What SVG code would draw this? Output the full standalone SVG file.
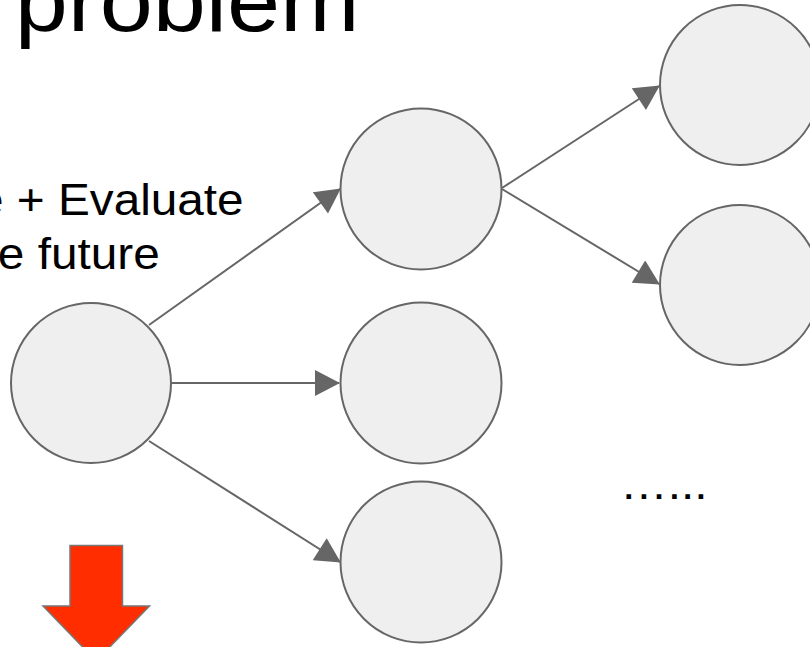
<svg xmlns="http://www.w3.org/2000/svg" width="810" height="647" viewBox="0 0 810 647">
  <style>
    .node { fill: #efefef; stroke: #666666; stroke-width: 2; }
    .edge { stroke: #666666; stroke-width: 2; fill: none; marker-end: url(#arrow); }
    .txt { font-family: "Liberation Sans", Arial, sans-serif; fill: #000000; }
  </style>
  <defs>
    <marker id="arrow" markerUnits="userSpaceOnUse" markerWidth="26" markerHeight="26" viewBox="0 0 25 26" refX="24" refY="13" orient="auto">
      <path d="M0,0 L25,13 L0,26 Z" fill="#666666"/>
    </marker>
  </defs>
  <rect width="810" height="647" fill="#ffffff"/>

  <g id="labels" transform="scale(1.085,1)">
    <text class="txt" x="13.6" y="31" font-size="88">problem</text>
    <text class="txt" x="-21.2" y="215" font-size="44">e + Evaluate</text>
    <text class="txt" x="-2" y="269" font-size="44">e future</text>
    <text class="txt" x="571.5" y="499.5" font-size="44">…...</text>
  </g>

  <g id="connectors">
    <line class="edge" x1="149" y1="325" x2="340" y2="189"/>
    <line class="edge" x1="172" y1="383" x2="339" y2="383"/>
    <line class="edge" x1="149" y1="441" x2="340" y2="562"/>
    <line class="edge" x1="502" y1="188" x2="659" y2="86"/>
    <line class="edge" x1="502" y1="189" x2="659" y2="284"/>
  </g>

  <g id="node-root"><circle class="node" cx="91" cy="383" r="80"/></g>
  <g id="node-mid-top"><circle class="node" cx="421" cy="189" r="80.5"/></g>
  <g id="node-mid-center"><circle class="node" cx="421" cy="383" r="80.5"/></g>
  <g id="node-mid-bottom"><circle class="node" cx="421" cy="562" r="80.5"/></g>
  <g id="node-right-top"><circle class="node" cx="740" cy="85" r="80"/></g>
  <g id="node-right-bottom"><circle class="node" cx="740" cy="285" r="80"/></g>

  <g id="red-arrow">
    <path d="M70,545.5 L122.5,545.5 L122.5,606 L149.5,606 L96.2,661 L43,606 L70,606 Z" fill="#ff2d00" stroke="#777777" stroke-width="1.5" stroke-linejoin="miter"/>
  </g>
</svg>
